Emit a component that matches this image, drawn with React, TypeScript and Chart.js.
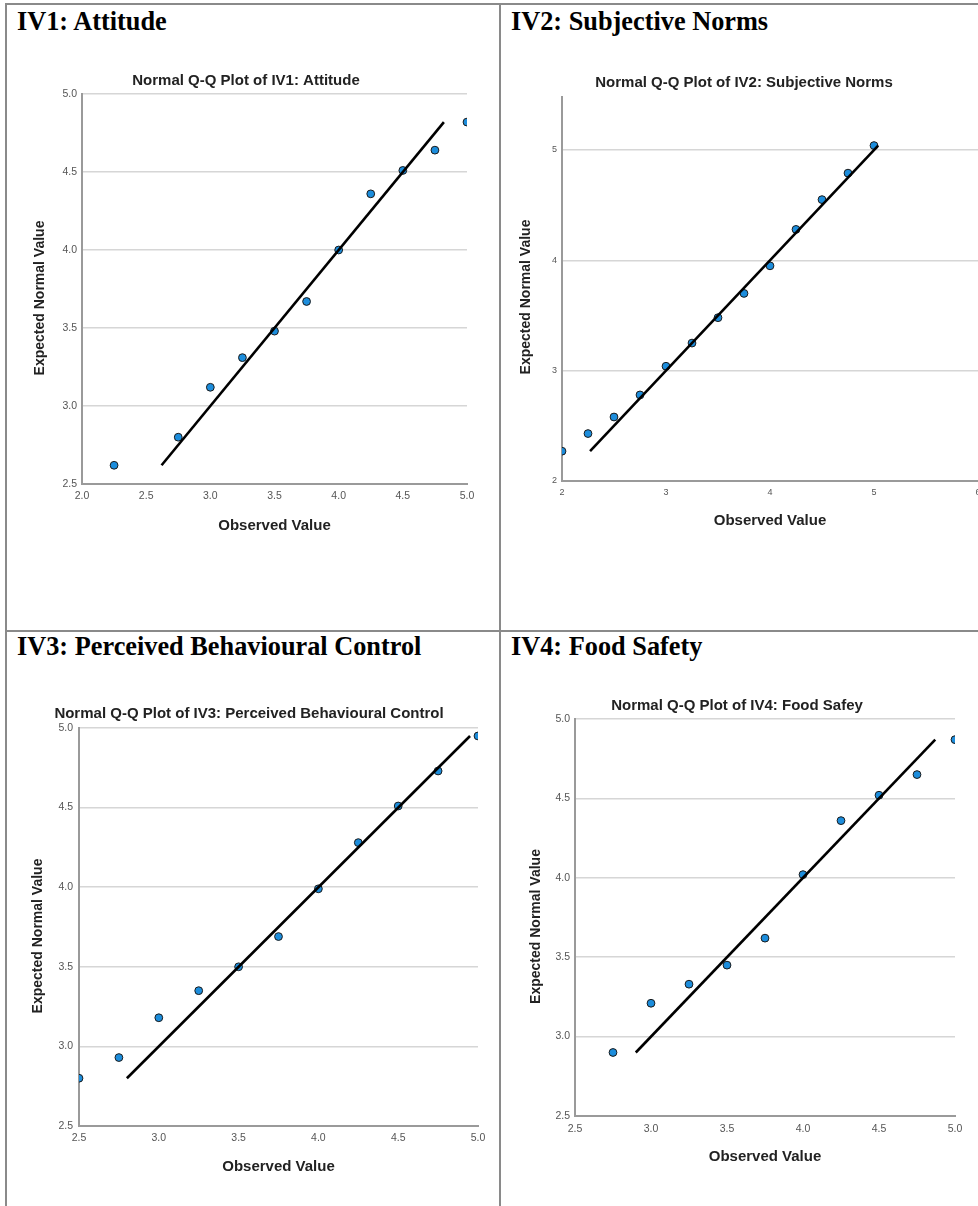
import React, { useEffect, useRef } from "react";
import { Chart, registerables } from "chart.js";

Chart.register(...registerables);

// ---------- data ----------
const iv1Observed = [2.25, 2.75, 3.0, 3.25, 3.5, 3.75, 4.0, 4.25, 4.5, 4.75, 5.0];
const iv1Expected = [2.62, 2.8, 3.12, 3.31, 3.48, 3.67, 4.0, 4.36, 4.51, 4.64, 4.82];

const iv2Observed = [2.0, 2.25, 2.5, 2.75, 3.0, 3.25, 3.5, 3.75, 4.0, 4.25, 4.5, 4.75, 5.0];
const iv2Expected = [2.27, 2.43, 2.58, 2.78, 3.04, 3.25, 3.48, 3.7, 3.95, 4.28, 4.55, 4.79, 5.04];

const iv3Observed = [2.5, 2.75, 3.0, 3.25, 3.5, 3.75, 4.0, 4.25, 4.5, 4.75, 5.0];
const iv3Expected = [2.8, 2.93, 3.18, 3.35, 3.5, 3.69, 3.99, 4.28, 4.51, 4.73, 4.95];

const iv4Observed = [2.75, 3.0, 3.25, 3.5, 3.75, 4.0, 4.25, 4.5, 4.75, 5.0];
const iv4Expected = [2.9, 3.21, 3.33, 3.45, 3.62, 4.02, 4.36, 4.52, 4.65, 4.87];

const headings = [
  "IV1: Attitude",
  "IV2: Subjective Norms",
  "IV3: Perceived Behavioural Control",
  "IV4: Food Safety",
];
const chartTitles = [
  "Normal Q-Q Plot of IV1: Attitude",
  "Normal Q-Q Plot of IV2: Subjective Norms",
  "Normal Q-Q Plot of IV3: Perceived Behavioural Control",
  "Normal Q-Q Plot of IV4: Food Safey",
];
const xAxisTitle = "Observed Value";
const yAxisTitle = "Expected Normal Value";

// axis ranges [min, max, step, decimals]
const iv1XRange = [2.0, 5.0, 0.5, 1];
const iv1YRange = [2.5, 5.0, 0.5, 1];
const iv2XRange = [2, 6, 1, 0];
const iv2YRange = [2, 5.48, 1, 0];
const iv3XRange = [2.5, 5.0, 0.5, 1];
const iv3YRange = [2.5, 5.0, 0.5, 1];
const iv4XRange = [2.5, 5.0, 0.5, 1];
const iv4YRange = [2.5, 5.0, 0.5, 1];

// ---------- styles ----------
const SANS = '"Liberation Sans", Arial, sans-serif';
const SERIF = '"Liberation Serif", "Times New Roman", serif';
const AXIS_COLOR = "#9a9a9a";
const GRID_COLOR = "#d6d6d6";
const TICK_COLOR = "#555555";
const TEXT_COLOR = "#222222";
const POINT_FILL = "#1c8ddc";
const POINT_EDGE = "#1a1a1a";
const TABLE_LINE = "#8a8a8a";

type Spec = {
  left: number;
  top: number;
  width: number;
  height: number;
  axisW: number;
  axisH: number;
  padRight: number;
  titlePadTop: number;
  titlePadBottom: number;
  yTitleX: number;
  yTitleShift: number;
  xTitlePad: number;
  tickSize: number;
  xTickPad: number;
  yTickPad: number;
};

function QQChart(props: {
  spec: Spec;
  title: string;
  observed: number[];
  expected: number[];
  xRange: number[];
  yRange: number[];
}) {
  const ref = useRef<HTMLCanvasElement | null>(null);
  const { spec, title, observed, expected, xRange, yRange } = props;

  useEffect(() => {
    if (!ref.current) return;
    const lo = Math.min(...expected);
    const hi = Math.max(...expected);
    const points = observed.map((x, i) => ({ x, y: expected[i] }));
    const refLine = [
      { x: lo, y: lo },
      { x: hi, y: hi },
    ];
    const tickFont = { family: SANS, size: spec.tickSize };

    // draws the vertical y-axis title (real canvas text) a bit below the plot centre
    const yTitlePlugin = {
      id: "yTitle",
      afterDraw(chart: any) {
        const { ctx, chartArea } = chart;
        ctx.save();
        ctx.translate(spec.yTitleX, (chartArea.top + chartArea.bottom) / 2 + spec.yTitleShift);
        ctx.rotate(-Math.PI / 2);
        ctx.font = `bold 14px ${SANS}`;
        ctx.fillStyle = TEXT_COLOR;
        ctx.textAlign = "center";
        ctx.textBaseline = "middle";
        ctx.fillText(yAxisTitle, 0, 0);
        ctx.restore();
      },
    };

    const chart = new Chart(ref.current, {
      type: "scatter",
      data: {
        datasets: [
          {
            data: refLine,
            showLine: true,
            borderColor: "#000000",
            borderWidth: 2.6,
            pointRadius: 0,
            order: 0,
          },
          {
            data: points,
            pointRadius: 3.9,
            pointBackgroundColor: POINT_FILL,
            pointBorderColor: POINT_EDGE,
            pointBorderWidth: 1,
            clip: 0,
            order: 1,
          },
        ],
      },
      plugins: [yTitlePlugin],
      options: {
        animation: false,
        responsive: false,
        devicePixelRatio: 1,
        layout: { padding: { left: 0, right: spec.padRight, top: 0, bottom: 0 } },
        plugins: {
          legend: { display: false },
          tooltip: { enabled: false },
          title: {
            display: true,
            text: title,
            color: TEXT_COLOR,
            font: { family: SANS, size: 15, weight: "bold" },
            padding: { top: spec.titlePadTop, bottom: spec.titlePadBottom },
          },
        },
        scales: {
          x: {
            type: "linear",
            min: xRange[0],
            max: xRange[1],
            afterFit: (s: any) => {
              s.height = spec.axisH;
              s.paddingLeft = 0;
              s.paddingRight = 0;
            },
            grid: { display: false, drawTicks: false },
            border: { display: true, color: AXIS_COLOR, width: 2 },
            ticks: {
              stepSize: xRange[2],
              includeBounds: false,
              color: TICK_COLOR,
              font: tickFont,
              padding: spec.xTickPad,
              maxRotation: 0,
              autoSkip: false,
              callback: (v: any) => Number(v).toFixed(xRange[3]),
            },
            title: {
              display: true,
              text: xAxisTitle,
              color: TEXT_COLOR,
              font: { family: SANS, size: 15, weight: "bold" },
              padding: { top: 0, bottom: spec.xTitlePad },
            },
          },
          y: {
            type: "linear",
            min: yRange[0],
            max: yRange[1],
            afterFit: (s: any) => {
              s.width = spec.axisW;
            },
            grid: { display: true, drawTicks: false, color: GRID_COLOR, lineWidth: 1.6 },
            border: { display: true, color: AXIS_COLOR, width: 2 },
            ticks: {
              stepSize: yRange[2],
              includeBounds: false,
              color: TICK_COLOR,
              font: tickFont,
              padding: spec.yTickPad,
              autoSkip: false,
              callback: (v: any) => Number(v).toFixed(yRange[3]),
            },
            title: { display: false },
          },
        },
      } as any,
    });
    return () => chart.destroy();
  }, []);

  return (
    <canvas
      ref={ref}
      width={spec.width}
      height={spec.height}
      style={{
        position: "absolute",
        left: spec.left,
        top: spec.top,
        width: spec.width,
        height: spec.height,
        display: "block",
      }}
    />
  );
}

const spec1: Spec = {
  left: 25, top: 55, width: 454, height: 485, axisW: 57, axisH: 56, padRight: 12,
  titlePadTop: 17, titlePadBottom: 4, yTitleX: 15, yTitleShift: 9, xTitlePad: 5,
  tickSize: 10.5, xTickPad: 6, yTickPad: 5,
};
const spec2: Spec = {
  left: 510, top: 55, width: 480, height: 480, axisW: 52, axisH: 54, padRight: 12,
  titlePadTop: 19, titlePadBottom: 5, yTitleX: 16, yTitleShift: 8, xTitlePad: 5,
  tickSize: 9, xTickPad: 6, yTickPad: 5,
};
const spec3: Spec = {
  left: 20, top: 690, width: 470, height: 495, axisW: 59, axisH: 59, padRight: 12,
  titlePadTop: 15, titlePadBottom: 5, yTitleX: 18, yTitleShift: 9, xTitlePad: 9,
  tickSize: 10.5, xTickPad: 6, yTickPad: 6,
};
const spec4: Spec = {
  left: 519, top: 680, width: 448, height: 495, axisW: 56, axisH: 59, padRight: 12,
  titlePadTop: 17, titlePadBottom: 4, yTitleX: 17, yTitleShift: 9, xTitlePad: 9,
  tickSize: 10.5, xTickPad: 7, yTickPad: 5,
};

function Heading(props: { text: string; left: number; top: number }) {
  return (
    <div
      style={{
        position: "absolute",
        left: props.left,
        top: props.top,
        fontFamily: SERIF,
        fontWeight: "bold",
        fontSize: 26.3,
        lineHeight: "26px",
        color: "#000",
        whiteSpace: "nowrap",
      }}
    >
      {props.text}
    </div>
  );
}

function Line(props: { left: number; top: number; width: number; height: number }) {
  return (
    <div
      style={{
        position: "absolute",
        left: props.left,
        top: props.top,
        width: props.width,
        height: props.height,
        background: TABLE_LINE,
      }}
    />
  );
}

export default function App() {
  return (
    <div
      style={{
        position: "absolute",
        left: 0,
        top: 0,
        width: 978,
        height: 1206,
        overflow: "hidden",
        background: "#fff",
      }}
    >
      <Line left={5} top={3} width={1000} height={2} />
      <Line left={5} top={3} width={2} height={1210} />
      <Line left={499} top={3} width={2} height={1210} />
      <Line left={5} top={630} width={1000} height={2} />

      <Heading text={headings[0]} left={17} top={9} />
      <Heading text={headings[1]} left={511} top={9} />
      <Heading text={headings[2]} left={17} top={634} />
      <Heading text={headings[3]} left={511} top={634} />

      <QQChart spec={spec1} title={chartTitles[0]} observed={iv1Observed} expected={iv1Expected} xRange={iv1XRange} yRange={iv1YRange} />
      <QQChart spec={spec2} title={chartTitles[1]} observed={iv2Observed} expected={iv2Expected} xRange={iv2XRange} yRange={iv2YRange} />
      <QQChart spec={spec3} title={chartTitles[2]} observed={iv3Observed} expected={iv3Expected} xRange={iv3XRange} yRange={iv3YRange} />
      <QQChart spec={spec4} title={chartTitles[3]} observed={iv4Observed} expected={iv4Expected} xRange={iv4XRange} yRange={iv4YRange} />
    </div>
  );
}
